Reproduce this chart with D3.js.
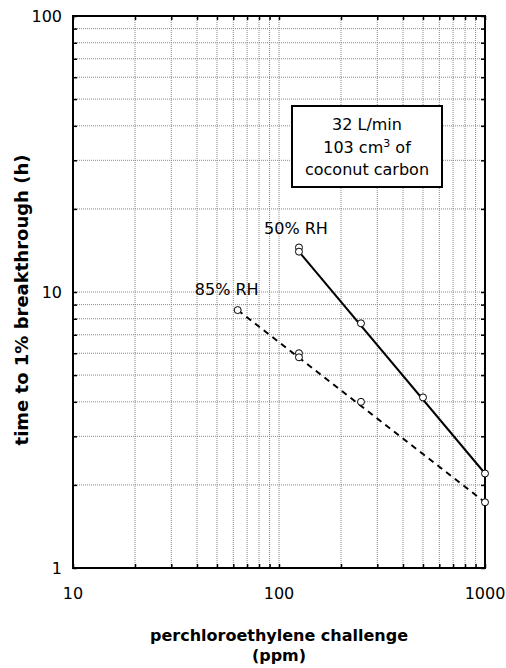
<!DOCTYPE html>
<html>
<head>
<meta charset="utf-8">
<script src="https://cdn.jsdelivr.net/npm/d3@7"></script>
<style>
  body { margin: 0; background: #fff; }
  svg { display: block; font-family: "DejaVu Sans", Verdana, sans-serif; }
</style>
</head>
<body>
<div id="chart"></div>
<script>
// data
var conc50 = [125, 125, 250, 500, 1000];
var time50 = [14.5, 14.0, 7.7, 4.15, 2.2];
var conc85 = [63, 125, 125, 250, 1000];
var time85 = [8.6, 6.0, 5.8, 4.0, 1.73];
var xTickLabels = [10, 100, 1000];
var yTickLabels = [1, 10, 100];
var boxLines = ["32 L/min", "103 cm|3| of", "coconut carbon"];

var W = 506, H = 668;
var margin = { left: 73, top: 16, right: 21, bottom: 100 };
var pw = W - margin.left - margin.right;
var ph = H - margin.top - margin.bottom;

var svg = d3.select("#chart").append("svg").attr("width", W).attr("height", H);
var g = svg.append("g").attr("transform", "translate(" + margin.left + "," + margin.top + ")");

var x = d3.scaleLog().domain([10, 1000]).range([0, pw]);
var y = d3.scaleLog().domain([1, 100]).range([ph, 0]);

// dotted grid
var grid = g.append("g");
x.ticks().forEach(function (v) {
  grid.append("line").attr("x1", x(v)).attr("x2", x(v)).attr("y1", 0).attr("y2", ph)
    .attr("stroke", "#888").attr("stroke-width", 1).attr("stroke-dasharray", "1,1");
});
y.ticks().forEach(function (v) {
  grid.append("line").attr("y1", y(v)).attr("y2", y(v)).attr("x1", 0).attr("x2", pw)
    .attr("stroke", "#888").attr("stroke-width", 1).attr("stroke-dasharray", "1,1");
});

// inward ticks on all four sides
function ticks(axis, tr) {
  var a = g.append("g").attr("transform", tr).call(axis.tickSizeOuter(0).tickFormat(""));
  a.select(".domain").remove();
  a.selectAll(".tick line").attr("stroke", "#000").attr("stroke-width", 1.5);
}
ticks(d3.axisBottom(x).tickSize(-4), "translate(0," + ph + ")");
ticks(d3.axisTop(x).tickSize(-4), "translate(0,0)");
ticks(d3.axisLeft(y).tickSize(-4), "translate(0,0)");
ticks(d3.axisRight(y).tickSize(-4), "translate(" + pw + ",0)");

// frame
g.append("rect").attr("width", pw).attr("height", ph)
  .attr("fill", "none").attr("stroke", "#000").attr("stroke-width", 2);

// tick labels
g.selectAll(".xl").data(xTickLabels).enter().append("text")
  .attr("x", function (d) { return x(d); }).attr("y", ph + 31)
  .attr("text-anchor", "middle").attr("font-size", 16).text(function (d) { return d; });
g.selectAll(".yl").data(yTickLabels).enter().append("text")
  .attr("x", -11).attr("y", function (d) { return y(d) + 6; })
  .attr("text-anchor", "end").attr("font-size", 16).text(function (d) { return d; });

// axis titles
svg.append("text").attr("x", margin.left + pw / 2).attr("y", 641)
  .attr("text-anchor", "middle").attr("font-size", 16).attr("font-weight", "bold")
  .text("perchloroethylene challenge");
svg.append("text").attr("x", margin.left + pw / 2).attr("y", 661)
  .attr("text-anchor", "middle").attr("font-size", 16).attr("font-weight", "bold")
  .text("(ppm)");
svg.append("text").attr("transform", "translate(28,300) rotate(-90)")
  .attr("text-anchor", "middle").attr("font-size", 18).attr("font-weight", "bold")
  .text("time to 1% breakthrough (h)");

// each line runs from the lowest value at the smallest challenge to the last point
function ends(xs, ys) {
  var i0 = 0;
  xs.forEach(function (v, i) { if (v === xs[0] && ys[i] < ys[i0]) i0 = i; });
  var i1 = xs.length - 1;
  return [[xs[i0], ys[i0]], [xs[i1], ys[i1]]];
}
var line = d3.line().x(function (d) { return x(d[0]); }).y(function (d) { return y(d[1]); });

g.append("path").datum(ends(conc50, time50)).attr("d", line)
  .attr("fill", "none").attr("stroke", "#000").attr("stroke-width", 2);
g.append("path").datum(ends(conc85, time85)).attr("d", line)
  .attr("fill", "none").attr("stroke", "#000").attr("stroke-width", 2).attr("stroke-dasharray", "6,5");

function points(xs, ys) {
  g.selectAll(null).data(xs).enter().append("circle")
    .attr("cx", function (d) { return x(d); })
    .attr("cy", function (d, i) { return y(ys[i]); })
    .attr("r", 3.5).attr("fill", "#fff").attr("stroke", "#000").attr("stroke-width", 1);
}
points(conc50, time50);
points(conc85, time85);

// series labels
g.append("text").attr("x", x(125) - 3).attr("y", y(time50[0]) - 13)
  .attr("text-anchor", "middle").attr("font-size", 16).text("50% RH");
g.append("text").attr("x", x(63) - 11).attr("y", y(time85[0]) - 15)
  .attr("text-anchor", "middle").attr("font-size", 16).text("85% RH");

// condition box
var bx = 292 - margin.left, by = 106 - margin.top, bw = 150, bh = 81;
g.append("rect").attr("x", bx).attr("y", by).attr("width", bw).attr("height", bh)
  .attr("fill", "#fff").attr("stroke", "#000").attr("stroke-width", 2);
boxLines.forEach(function (s, i) {
  var t = g.append("text").attr("x", bx + bw / 2).attr("y", by + 24 + i * 22.5)
    .attr("text-anchor", "middle").attr("font-size", 16);
  var parts = s.split("|");
  t.append("tspan").text(parts[0]);
  if (parts.length > 1) {
    t.append("tspan").attr("font-size", 11).attr("dy", -6).text(parts[1]);
    t.append("tspan").attr("dy", 6).text(parts[2]);
  }
});
</script>
</body>
</html>
